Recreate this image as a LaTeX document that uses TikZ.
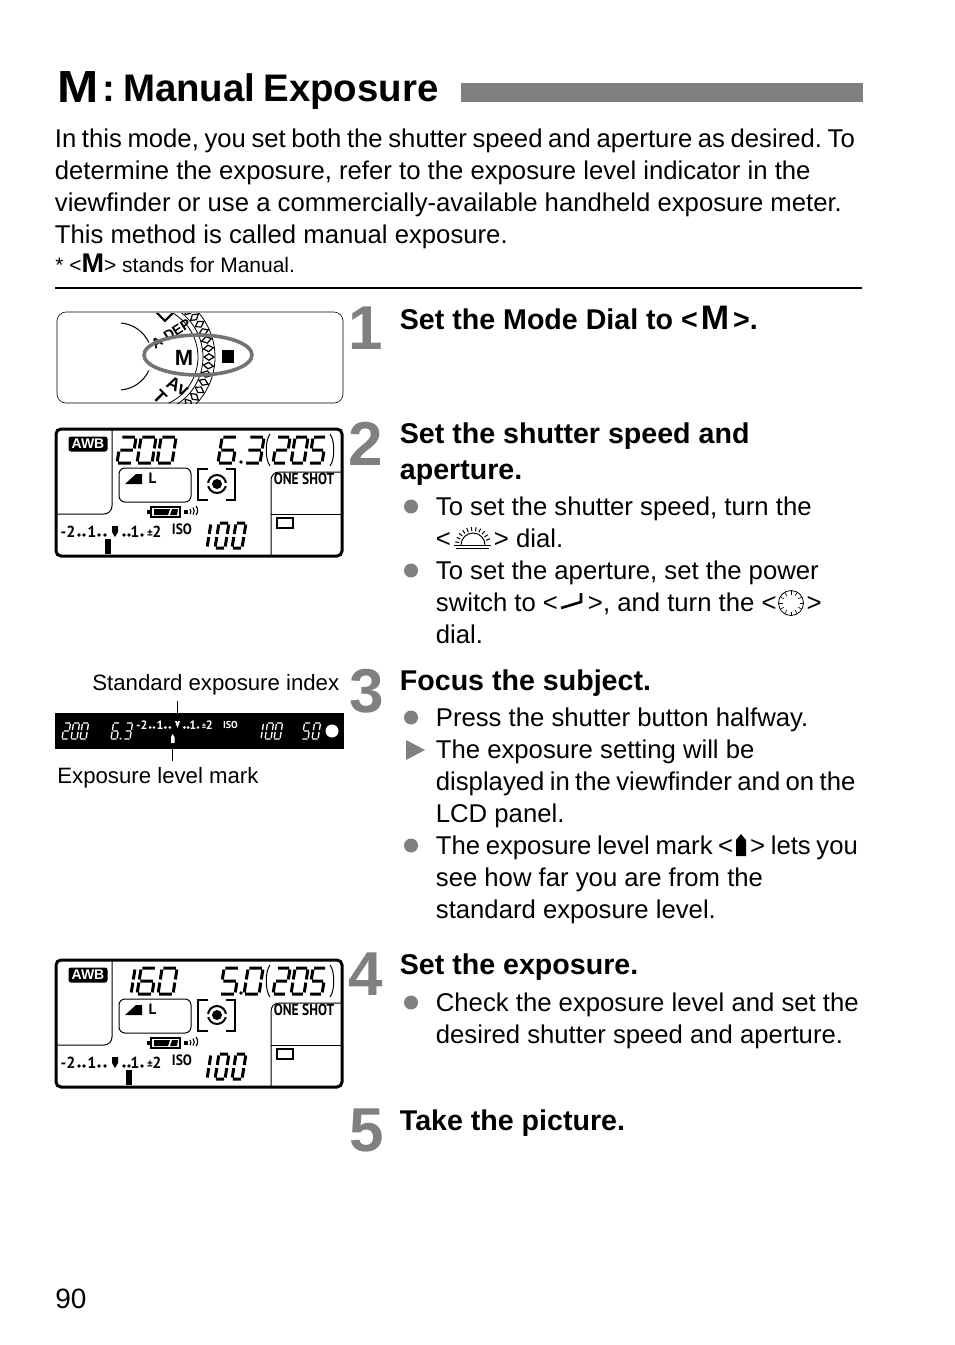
\documentclass[tikz,border=0pt]{standalone}
\usepackage{fontspec}
\setmainfont{Liberation Sans}
\newfontfamily\lcdfont{PT Sans}
\usetikzlibrary{positioning,calc}
\frenchspacing
\definecolor{markgray}{gray}{0.5}
\definecolor{ringgray}{gray}{0.45}
\newcommand{\Fs}[1]{\fontsize{#1}{#1}\selectfont}
\newcommand{\Tight}[2]{{\spaceskip=#1pt\relax #2}}
\newcommand{\sT}{(.08,0)--(.92,0) }
\newcommand{\sU}{(1,.06)--(1,.44) }
\newcommand{\sV}{(0,.06)--(0,.44) }
\newcommand{\sM}{(.08,.5)--(.92,.5) }
\newcommand{\sL}{(1,.56)--(1,.94) }
\newcommand{\sK}{(0,.56)--(0,.94) }
\newcommand{\sB}{(.08,1)--(.92,1) }
\expandafter\def\csname dp0\endcsname{\sT\sU\sV\sL\sK\sB}
\expandafter\def\csname dp1\endcsname{\sU\sL}
\expandafter\def\csname dp2\endcsname{\sT\sU\sM\sK\sB}
\expandafter\def\csname dp3\endcsname{\sT\sU\sM\sL\sB}
\expandafter\def\csname dp5\endcsname{\sT\sV\sM\sL\sB}
\expandafter\def\csname dp6\endcsname{\sT\sV\sM\sK\sL\sB}
\newcommand{\SegDigit}[5]{
  \begin{scope}[shift={(#1,#2)},x={(#3 pt,0pt)},y={(-#4*0.16 pt,-#4 pt)},xshift=#4*0.16 pt]
    \edef\digitpath{\csname dp#5\endcsname}
    \draw \digitpath;
  \end{scope}
}
\newcommand{\ExpScale}[5]{
  \begin{scope}[shift={(#2,#3)},scale=#4,transform shape,#5]
    \node [scaletxt] (#1a) at (5,0) {-2};
    \node [scaletxt] (#1b) at (29,0) {1};
    \node [scaletxt] (#1c) at (72,0) {1};
    \node [scaletxt] (#1d) at (87,0) {\Fs{11}±};
    \node [scaletxt] (#1e) at (94,0) {2};
    \foreach \px in {16,21,36,42,61,66,79}
      \fill (\px,-2) circle (1.9);
  \end{scope}
}
\newcommand{\LcdPanel}[5]{
  \begin{scope}[yshift=-#2 pt]
    \draw [lcdframe] (56,429) rectangle (342,556);
    \draw [lcdline, rounded corners=8] (112,430) -- (112,514) -- (57,514);
    \draw [lcdline, rounded corners=8] (271,555) -- (271,472) -- (341,472);
    \draw [lcdline] (271,514.5) -- (341,514.5);
    \node [awbbox] (#1awb) at (88,444) {AWB};
    \begin{scope}[line width=3pt]
      \foreach \dg/\px in {#3} {\SegDigit{\px}{437}{15}{26}{\dg}}
      \foreach \dg/\px in {#4} {\SegDigit{\px}{437}{15}{26}{\dg}}
      \foreach \dg/\px in {2/273,0/291,5/309} {\SegDigit{\px}{437}{13}{26}{\dg}}
      \foreach \dg/\px in {1/197,0/215,0/232} {\SegDigit{\px}{523}{10}{25}{\dg}}
    \end{scope}
    \fill (241,462) circle (1.8);
    \draw [lcdline] (270,434) .. controls (265,440) and (265,460) .. (270,466);
    \draw [lcdline] (330,434) .. controls (335,440) and (335,460) .. (330,466);
    \draw [lcdline,rounded corners=6] (119,468) rectangle (191,502);
    \fill (125,484) -- (142,484) -- (142,474) -- (136,474) -- cycle;
    \node [lcdtxt,font=\lcdfont\Fs{15}\bfseries] (#1l) at (152.5,478) {L};
    \draw [lcdline,line width=1.5pt] (208,469) -| (198,500) -- (208,500) (226,500) -| (235,469) -- (226,469);
    \draw [lcdline,line width=2pt] (217,484) circle (9);
    \fill [white] (206,482.5) rectangle (228,485.5);
    \fill (217,484) circle (5);
    \node [lcdtxt,font=\lcdfont\Fs{16}\bfseries,xscale=.84] (#1shot) at (304,479) {ONE SHOT};
    \draw [line width=2pt] (277,518) rectangle (293,528);
    \draw [line width=1.4pt] (151,507) rectangle (180,517);
    \fill (147,510) rectangle (151,514);
    \fill (154,509) -- (170,509) -- (168,515) -- (154,515) -- cycle;
    \fill (172,509) -- (178,509) -- (177,515) -- (170,515) -- cycle;
    \fill (184,510) rectangle (188,514);
    \draw [line width=1.1pt] (190,509) arc (-40:40:4) (193,507.5) arc (-40:40:5.5) (196,506) arc (-40:40:7);
    \ExpScale{#1s}{63}{537}{1}{}
    \fill (112,526) -- (118,526) -- (118,532) -- (115,537) -- (112,532) -- cycle;
    \node [lcdtxt,font=\lcdfont\bfseries\Fs{15},xscale=.9] (#1iso) at (182,529) {ISO};
    \fill (#5,539) rectangle ++(6,15);
  \end{scope}
}
\tikzset{
  every picture/.style={line width=0.8pt},
  bodytxt/.style={anchor=base west, inner sep=0pt, align=left, font=\Fs{25.7}, execute at begin node={\baselineskip=32pt}},
  headtxt/.style={anchor=base west, inner sep=0pt, align=left, font=\bfseries\Fs{28.6}, execute at begin node={\baselineskip=36pt}},
  smalltxt/.style={anchor=base west, inner sep=0pt, font=\Fs{22.2}},
  stepnum/.style={anchor=base, inner sep=0pt, text=markgray, font=\bfseries\Fs{62}},
  bulletdot/.style={circle, fill=markgray, minimum size=14pt, inner sep=0pt},
  arrowmark/.style={fill=markgray},
  lcdframe/.style={draw, line width=3pt, rounded corners=5},
  lcdline/.style={line width=1pt},
  lcdtxt/.style={inner sep=0pt},
  awbbox/.style={fill=black, text=white, rounded corners=2.5, inner sep=0pt, minimum width=39pt, minimum height=15pt, font=\bfseries\Fs{14}},
  scaletxt/.style={anchor=base, inner sep=0pt, font=\lcdfont\bfseries\Fs{16}},
  leader/.style={line width=1pt},
  dialring/.style={line width=0.8pt}
}
\begin{document}
\begin{tikzpicture}[x=1pt,y=-1pt]
  \useasboundingbox (0,0) rectangle (954,1345);

  \node [anchor=base west, inner sep=0pt, xscale=1.1, font=\bfseries\Fs{45}] (titlem) at (57,102) {M};
  \node [anchor=base west, inner sep=0pt, font=\bfseries\Fs{38.4}] (title) at (102,101) {\Tight{8}{: Manual Exposure}};
  \fill [markgray] (461,83) rectangle (863,102);

  \node [bodytxt] (intro) at (54.5,243) {\Tight{5.6}{In this mode, you set both the shutter speed and aperture as desired. To}\\determine the exposure, refer to the exposure level indicator in the\\viewfinder or use a commercially-available handheld exposure meter.\\This method is called manual exposure.};
  \node [smalltxt, font=\Fs{21}] (note) at (55,272) {* <{\bfseries\Fs{27}M}> stands for Manual.};
  \draw [line width=1.2pt] (55,288) -- (862,288);

  % mode dial
  \draw [line width=0.6pt, rounded corners=9] (57,312) rectangle (343,403);
  \begin{scope}
    \clip (57,313) rectangle (343,403);
    \draw [line width=1pt] (121,323) arc (-85:-25:34);
    \draw [line width=1pt] (121,390) arc (85:25:34);
    \foreach \rr in {51,56,68}
      \draw [dialring] (147,357) ++(-65:\rr) arc (-65:65:\rr);
    \foreach \ang in {-64,-56,...,64}
      \draw [dialring, line width=1.2pt] ($(147,357)+(\ang:57)$) -- ($(147,357)+(\ang+3:62)$) -- ($(147,357)+(\ang:67)$) -- ($(147,357)+(\ang-3:62)$) -- cycle;
    \draw [line width=2pt, rotate around={45:(165,311)}] (158,304) rectangle (172,318);
    \node [inner sep=0pt, rotate=33, font=\bfseries\Fs{14}] (adep) at (171,334) {A-DEP};
    \node [inner sep=0pt, rotate=-27, font=\bfseries\Fs{18}] (av) at (178,386) {Av};
    \node [inner sep=0pt, rotate=-45, font=\bfseries\Fs{18}] (tv) at (160,397) {T};
  \end{scope}
  \node [inner sep=0pt, font=\bfseries\Fs{22}] (mdial) at (184,357.5) {M};
  \fill (222,350) rectangle (234,363);
  \draw [ringgray, line width=3.6pt] (198,355) ellipse (54 and 20);

  \node [stepnum] (stepa) at (366,349) {1};
  \node [headtxt] (heada) at (399.5,329) {Set the Mode Dial to <\hspace{3pt}{\Fs{34}M}\hspace{4pt}>.};

  \LcdPanel{pa}{0}{2/117,0/137,0/157}{6/218,3/245}{105}
  \node [stepnum] (stepb) at (366,465) {2};
  \node [headtxt] (headb) at (399.5,479) {Set the shutter speed and\\aperture.};
  \node [bulletdot] (dota) at (411,506.5) {};
  \node [bodytxt] (bula) at (435.5,547) {To set the shutter speed, turn the\\<\hspace{43pt}> dial.};
  \node [bulletdot] (dotb) at (411,570.5) {};
  \node [bodytxt] (bulb) at (435.5,643) {To set the aperture, set the power\\switch to <\hspace{30pt}>, and turn the <\hspace{30pt}>\\dial.};

  % gear icon
  \draw [line width=1pt] (454,545) -- (491,545) (456,548) -- (489,548);
  \draw [line width=1pt] (461,545) arc (180:360:12);
  \foreach \ang in {-170,-155,...,-10}
    \draw [line width=1pt] ($(473,545)+(\ang:14)$) -- ($(473,545)+(\ang:18)$);
  % power switch icon
  \draw [line width=2.6pt] (561,608) -- (581,602) -- (581,593);
  % dial icon
  \draw [line width=0.8pt] (791,603) circle (12.5);
  \foreach \ang in {0,30,...,330}
    \draw [line width=0.6pt] ($(791,603)+(\ang:8.5)$) -- ($(791,603)+(\ang:12)$);

  \node [smalltxt] (stdlabel) at (92,690) {Standard exposure index};
  \node [smalltxt] (explabel) at (57,783) {Exposure level mark};
  \fill (55,713) rectangle (344,749);
  \begin{scope}[white, line width=1.3pt]
    \foreach \dg/\px in {2/62,0/71,0/80,6/111,3/124,1/255,0/265,0/274,5/302,0/312} {\SegDigit{\px}{723}{6}{16}{\dg}}
    \fill (120.5,738.5) circle (1);
    \fill (332,731) circle (6.5);
    \ExpScale{vf}{138}{729}{.76}{}
    \node [lcdtxt, font=\lcdfont\bfseries\Fs{10}] (vfiso) at (230.5,725) {ISO};
    \fill (175,721) -- (180,721) -- (177.5,728) -- cycle;
    \fill (171,737) -- (172.7,734) -- (174.5,737) -- (174.5,743) -- (171,743) -- cycle;
  \end{scope}
  \coordinate (stdtip) at (177.5,722);
  \coordinate (exptip) at (172.7,743);
  \draw [leader, shorten <=6pt] (stdlabel.south -| stdtip) -- (stdtip);
  \draw [leader, shorten <=6pt] (explabel.north -| exptip) -- (exptip);

  \node [stepnum] (stepc) at (367,712) {3};
  \node [headtxt] (headc) at (399.5,690) {Focus the subject.};
  \node [bulletdot] (dotc) at (411,717.5) {};
  \node [bodytxt] (bulc) at (435.5,726) {Press the shutter button halfway.};
  \fill [arrowmark] (406,740) -- (425,750) -- (406,760) -- cycle;
  \node [bodytxt] (buld) at (435.5,822) {The exposure setting will be\\\Tight{5.4}{displayed in the viewfinder and on the}\\LCD panel.};
  \node [bulletdot] (dotd) at (411,845.5) {};
  \node [bodytxt] (bule) at (435.5,918) {\Tight{5.6}{The exposure level mark <\hspace{17pt}> lets you}\\see how far you are from the\\standard exposure level.};
  \fill (736,856) -- (736,840) -- (741,834) -- (746,840) -- (746,856) -- cycle;

  \LcdPanel{pb}{531}{1/116,6/137,0/158}{5/220,0/244}{126}
  \node [stepnum] (stepd) at (366,995) {4};
  \node [headtxt] (headd) at (399.5,974) {Set the exposure.};
  \node [bulletdot] (dote) at (411,1002.5) {};
  \node [bodytxt] (bulf) at (435.5,1043) {Check the exposure level and set the\\desired shutter speed and aperture.};

  \node [stepnum] (stepe) at (367,1151) {5};
  \node [headtxt] (heade) at (399.5,1130) {Take the picture.};

  \node [bodytxt, font=\Fs{28}] (pagenum) at (55,1308) {90};
\end{tikzpicture}
\end{document}
